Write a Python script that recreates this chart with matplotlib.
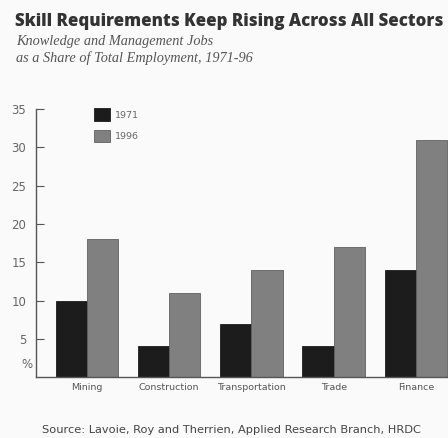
import matplotlib
matplotlib.use("Agg")
import matplotlib.pyplot as plt
import numpy as np

sectors = ["Mining", "Construction", "Transportation", "Trade", "Finance"]
share_1971 = [10, 4, 7, 4, 14]
share_1996 = [18, 11, 14, 17, 31]
yticks = [5, 10, 15, 20, 25, 30, 35]

bg = "#fafafa"
fig = plt.figure(figsize=(4.48, 4.38), dpi=100, facecolor=bg)
ax = fig.add_axes([0.080, 0.139, 0.92, 0.612], facecolor=bg)

x = np.arange(len(sectors))
w = 0.38
ax.bar(x - w / 2, share_1971, w, color="#1c1c1c", edgecolor="#1c1c1c", linewidth=0.6, label="1971")
ax.bar(x + w / 2, share_1996, w, color="#808080", edgecolor="#606060", linewidth=0.6, label="1996")

ax.set_xlim(-0.62, 4.39)
ax.set_ylim(0, 35)
ax.set_yticks(yticks)
ax.set_yticklabels([str(t) for t in yticks], color="#666666", fontsize=8.5)
ax.tick_params(axis="y", direction="in", length=6, width=0.8, color="#555555", pad=7)
ax.set_xticks(x)
ax.set_xticklabels(sectors, color="#555555", fontsize=6.8)
ax.tick_params(axis="x", length=0, pad=4)
for s in ["top", "right"]:
    ax.spines[s].set_visible(False)
for s in ["left", "bottom"]:
    ax.spines[s].set_color("#555555")
    ax.spines[s].set_linewidth(1.0)

ax.text(-0.73, 1.7, "%", color="#666666", fontsize=8.5, ha="center", va="center")

ax.legend(loc="upper left", bbox_to_anchor=(0.13, 1.02), frameon=False,
          fontsize=6.8, handlelength=1.7, handleheight=1.7, handletextpad=0.5,
          labelspacing=0.9, borderpad=0, labelcolor="#666666")

fig.text(0.033, 0.95, "Skill Requirements Keep Rising Across All Sectors",
         fontsize=12.2, fontweight="heavy", family="Open Sans", color="#333333", va="center")
fig.text(0.035, 0.905, "Knowledge and Management Jobs", fontsize=10.3, style="italic",
         family="Liberation Serif", color="#555555", va="center")
fig.text(0.035, 0.867, "as a Share of Total Employment, 1971-96", fontsize=10.3, style="italic",
         family="Liberation Serif", color="#555555", va="center")
fig.text(0.094, 0.018, "Source: Lavoie, Roy and Therrien, Applied Research Branch, HRDC",
         fontsize=8.2, color="#444444", va="center")

fig.savefig("out.png", dpi=100, facecolor=bg)
